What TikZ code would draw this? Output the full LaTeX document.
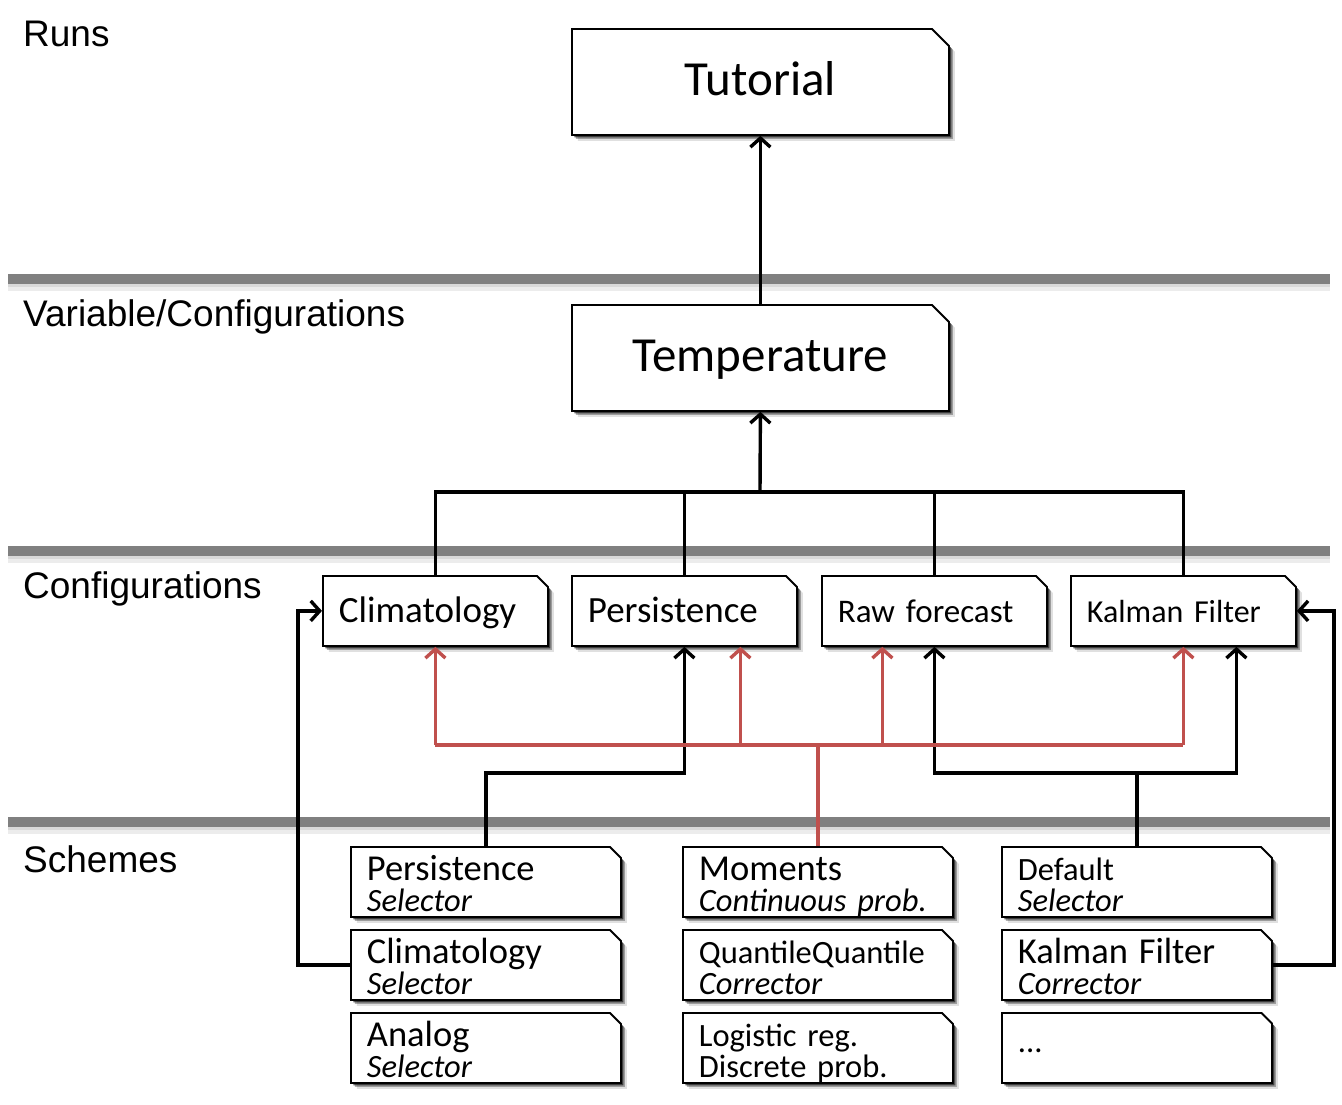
\documentclass[tikz,border=0pt]{standalone}
\usepackage{fontspec}
\setmainfont{Carlito}
\newfontfamily\layerfont{Liberation Sans}
\usetikzlibrary{shapes.misc,shadows,arrows.meta,positioning}
\definecolor{linkred}{RGB}{192,80,77}
\definecolor{sepgray}{RGB}{128,128,128}
\tikzstyle{foldbox}=[chamfered rectangle, chamfered rectangle corners=north east, draw, line width=1.8pt, fill=white,
  drop shadow={shadow xshift=6pt, shadow yshift=-6pt, fill=black, opacity=.12},
  drop shadow={shadow xshift=4pt, shadow yshift=-4pt, fill=black, opacity=.3},
  drop shadow={shadow xshift=2.5pt, shadow yshift=-2.5pt, fill=black, opacity=.6},
  anchor=north west, inner xsep=10.5pt, inner ysep=0pt, align=left, chamfered rectangle sep=5.5pt]
\tikzstyle{bigbox}=[foldbox, minimum width=377pt, minimum height=106pt, chamfered rectangle sep=8.5pt, align=center, text height=34pt, text depth=6pt, font=\fontsize{49}{55}\selectfont]
\tikzstyle{confbox}=[foldbox, minimum width=225pt, minimum height=70pt, text width=193pt, text height=24pt, text depth=0pt]
\tikzstyle{schemebox}=[foldbox, minimum width=270pt, minimum height=70pt, text width=238pt, text height=22pt, text depth=24pt, font=\fontsize{32.5}{31}\selectfont]
\tikzstyle{layer}=[anchor=base west, inner sep=0, font=\layerfont\fontsize{37}{40}\selectfont]
\tikzstyle{wire}=[line width=3.4pt]
\tikzstyle{link}=[wire, -{Straight Barb[length=9pt,width=20pt,line width=3.4pt]}]
\newcommand{\confnode}[4]{\node[confbox, font=\fontsize{#3}{40}\selectfont] (#1) at (#2) {#4};}
\newcommand{\schemenode}[3]{\node[schemebox] (#1) at (#2) {#3};}
\newcommand{\bigline}[1]{{\fontsize{36.5}{31}\selectfont #1}}

\begin{document}
\begin{tikzpicture}[x=1pt, y=-1pt]
\useasboundingbox (0,0) rectangle (1342,1104);

% layers
\foreach \y in {279, 551, 822} {
  \draw[gray!15, line width=8pt] (8,\y+8) -- (1330,\y+8);
  \draw[gray!30, line width=4pt] (8,\y+6) -- (1330,\y+6);
  \draw[sepgray, line width=10pt] (8,\y) -- (1330,\y);
}
\node[layer] (runs) at (23,46) {Runs};
\node[layer] (vars) at (23,326) {Variable/Configurations};
\node[layer] (confs) at (23,598) {Configurations};
\node[layer] (schemes) at (23,872) {Schemes};

\node[bigbox] (tut) at (571,28) {Tutorial};
\node[bigbox] (temp) at (571,304) {Temperature};

\confnode{clim}{322,575}{37}{Climatology}
\confnode{pers}{571,575}{37}{Persistence}
\confnode{raw}{821,575}{33}{Raw forecast}
\confnode{kal}{1070,575}{32}{Kalman Filter}

\schemenode{psel}{350,846}{\bigline{Persistence}\\\textit{Selector}}
\schemenode{csel}{350,929}{\bigline{Climatology}\\\textit{Selector}}
\schemenode{asel}{350,1012}{\bigline{Analog}\\\textit{Selector}}
\schemenode{mom}{682,846}{\bigline{Moments}\\\textit{Continuous prob.}}
\schemenode{qq}{682,929}{QuantileQuantile\\\textit{Corrector}}
\schemenode{logit}{682,1012}{Logistic reg.\\Discrete prob.}
\schemenode{dsel}{1001,846}{Default\\\textit{Selector}}
\schemenode{kcor}{1001,929}{\bigline{Kalman Filter}\\\textit{Corrector}}
\node[schemebox, text height=10pt, text depth=0pt] (more) at (1001,1012) {...};

\coordinate (topbus) at (760,492);
\coordinate (lowbus) at (0,773);
\coordinate (redbus) at (0,745);

\draw[link] (temp.north) -- (tut.south);
\draw[wire] (clim.north) |- (topbus) -| (kal.north);
\draw[wire] (pers.north) -- (pers.north |- topbus);
\draw[wire] (raw.north) -- (raw.north |- topbus);
\draw[link] (topbus) -- (temp.south);

\draw[link] (psel.north) |- (pers.south |- lowbus) -- (pers.south);
\draw[link] (dsel.north) |- (raw.south |- lowbus) -- (raw.south);
\draw[link] (dsel.north |- lowbus) -| ([xshift=53pt]kal.south);
\draw[link] (csel.west) -- ++(-52,0) |- (clim.west);
\draw[link] (kcor.east) -- ++(61,0) |- (kal.east);

% moments feed every configuration
\begin{scope}[linkred]
\draw[wire] (mom.north) -- (mom.north |- redbus);
\draw[wire] (clim.south |- redbus) -- (kal.south |- redbus);
\draw[link] (clim.south |- redbus) -- (clim.south);
\draw[link] ([xshift=56pt]pers.south |- redbus) -- ([xshift=56pt]pers.south);
\draw[link] ([xshift=-52pt]raw.south |- redbus) -- ([xshift=-52pt]raw.south);
\draw[link] (kal.south |- redbus) -- (kal.south);
\end{scope}
\end{tikzpicture}
\end{document}
